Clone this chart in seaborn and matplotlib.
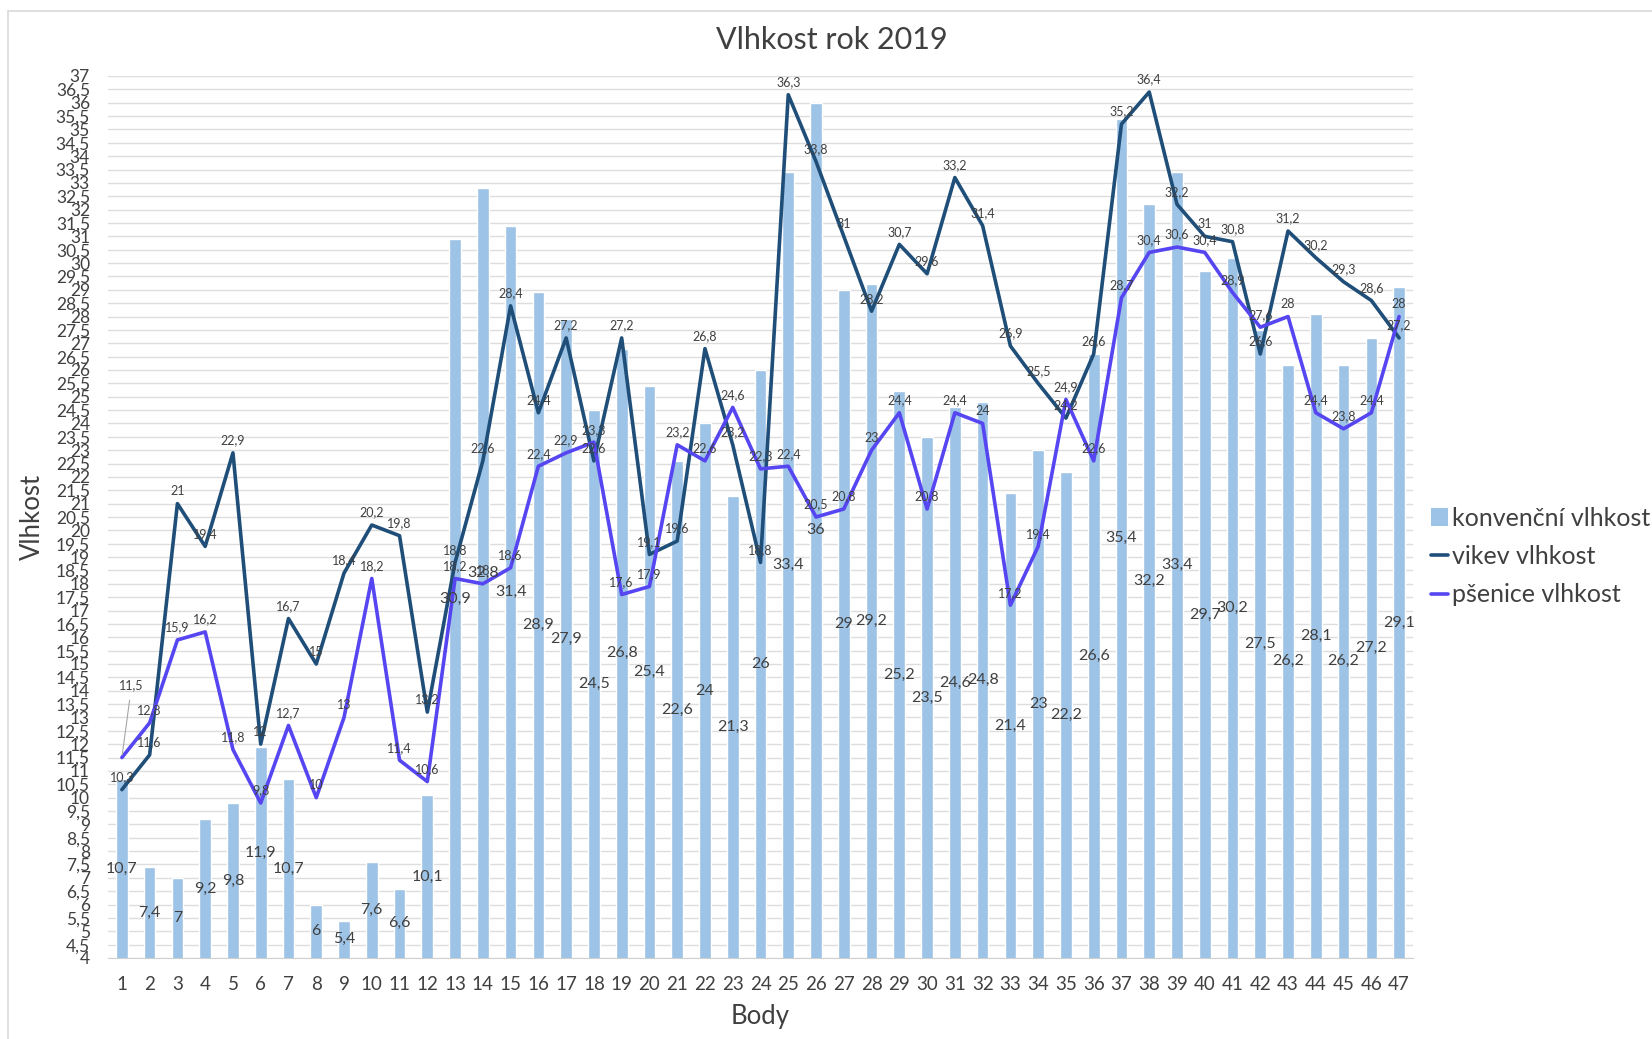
import numpy as np
import pandas as pd
import matplotlib
matplotlib.use("Agg")
import matplotlib.pyplot as plt
from matplotlib.lines import Line2D
from matplotlib.patches import Patch
import seaborn as sns

# Data
body = list(range(1, 48))
konvencni = [10.7, 7.4, 7, 9.2, 9.8, 11.9, 10.7, 6, 5.4, 7.6, 6.6, 10.1, 30.9, 32.8, 31.4,
             28.9, 27.9, 24.5, 26.8, 25.4, 22.6, 24, 21.3, 26, 33.4, 36, 29, 29.2, 25.2, 23.5,
             24.6, 24.8, 21.4, 23, 22.2, 26.6, 35.4, 32.2, 33.4, 29.7, 30.2, 27.5, 26.2, 28.1,
             26.2, 27.2, 29.1]
vikev = [10.3, 11.6, 21, 19.4, 22.9, 12, 16.7, 15, 18.4, 20.2, 19.8, 13.2, 18.8, 22.6, 28.4,
         24.4, 27.2, 22.6, 27.2, 19.1, 19.6, 26.8, 23.2, 18.8, 36.3, 33.8, 31, 28.2, 30.7, 29.6,
         33.2, 31.4, 26.9, 25.5, 24.2, 26.6, 35.2, 36.4, 32.2, 31, 30.8, 26.6, 31.2, 30.2, 29.3,
         28.6, 27.2]
psenice = [11.5, 12.8, 15.9, 16.2, 11.8, 9.8, 12.7, 10, 13, 18.2, 11.4, 10.6, 18.2, 18, 18.6,
           22.4, 22.9, 23.3, 17.6, 17.9, 23.2, 22.6, 24.6, 22.3, 22.4, 20.5, 20.8, 23, 24.4, 20.8,
           24.4, 24, 17.2, 19.4, 24.9, 22.6, 28.7, 30.4, 30.6, 30.4, 28.9, 27.6, 28, 24.4, 23.8,
           24.4, 28]

df = pd.DataFrame({"body": body, "konvencni": konvencni, "vikev": vikev, "psenice": psenice})

c_bar = "#9DC3E6"
c_vikev = "#1F4E79"
c_psenice = "#5646F2"
c_text = "#404040"
c_grid = "#DDDDDD"

sns.set_style("white")
plt.rcParams["font.family"] = ["Lato", "DejaVu Sans"]

W, H = 1652, 1039
fig = plt.figure(figsize=(W / 100, H / 100), dpi=100)
ax = fig.add_axes([108 / W, 1 - 958 / H, (1413 - 108) / W, (958 - 76) / H])


def fmt(v):
    return ("%g" % v).replace(".", ",")


# bars (axis starts at 4)
sns.barplot(data=df, x="body", y="konvencni", native_scale=True, width=0.42,
            color=c_bar, saturation=1, ax=ax, zorder=2)
sns.lineplot(data=df, x="body", y="vikev", color=c_vikev, lw=2.6, ax=ax, zorder=3)
sns.lineplot(data=df, x="body", y="psenice", color=c_psenice, lw=2.6, ax=ax, zorder=3)

ax.set_xlim(0.5, 47.5)
ax.set_ylim(4, 37)
yt = np.arange(4, 37.01, 0.5)
ax.set_yticks(yt)
ax.set_yticklabels([fmt(v) for v in yt], fontsize=12.5, color=c_text)
ax.set_xticks(body)
ax.set_xticklabels([str(b) for b in body], fontsize=13.5, color=c_text)
ax.tick_params(axis="y", length=0, pad=13)
ax.tick_params(axis="x", length=0, pad=13)
ax.yaxis.grid(True, color=c_grid, lw=1, zorder=0)
ax.set_axisbelow(True)
for s in ["top", "right", "left"]:
    ax.spines[s].set_visible(False)
ax.spines["bottom"].set_color("#D0D0D0")
ax.spines["bottom"].set_zorder(1)

ax.set_xlabel("Body", fontsize=18.5, color=c_text, labelpad=8)
ax.set_ylabel("Vlhkost", fontsize=18.5, color=c_text, labelpad=8)
fig.text(832 / W, 1 - 40 / H, "Vlhkost rok 2019", ha="center", va="center",
         fontsize=22, color=c_text)

# data labels
for x, v in zip(body, konvencni):
    ax.text(x, (4 + v) / 2, fmt(v), ha="center", va="center", fontsize=11.5,
            color=c_text, zorder=5)
for x, v in zip(body, vikev):
    ax.annotate(fmt(v), (x, v), xytext=(0, 9), textcoords="offset points",
                ha="center", va="center", fontsize=9, color=c_text, zorder=5)
for x, v in zip(body, psenice):
    if x == 1:
        ax.annotate(fmt(v), (x, v), xytext=(7, 52), textcoords="offset points",
                    ha="center", va="center", fontsize=9, color=c_text, zorder=5,
                    arrowprops=dict(arrowstyle="-", color="#A6A6A6", lw=0.8,
                                    shrinkA=4, shrinkB=2))
    else:
        ax.annotate(fmt(v), (x, v), xytext=(0, 9), textcoords="offset points",
                    ha="center", va="center", fontsize=9, color=c_text, zorder=5)

# legend
handles = [Patch(facecolor=c_bar, edgecolor="none"),
           Line2D([0], [0], color=c_vikev, lw=2.6),
           Line2D([0], [0], color=c_psenice, lw=2.6)]
labels = ["konvenční vlhkost", "vikev vlhkost", "pšenice vlhkost"]
fig.legend(handles, labels, loc="upper left", bbox_to_anchor=(1418 / W, 1 - 494 / H),
           frameon=False, fontsize=18, handlelength=0.7, handleheight=0.7,
           handletextpad=0.15, labelspacing=0.62, labelcolor=c_text, borderpad=0)

# chart area border
fig.add_artist(Line2D([8 / W, 1], [1 - 11 / H, 1 - 11 / H], color="#D9D9D9", lw=1.2))
fig.add_artist(Line2D([8 / W, 8 / W], [0, 1 - 11 / H], color="#D9D9D9", lw=1.2))

fig.savefig("out.png", dpi=100, facecolor="white")
